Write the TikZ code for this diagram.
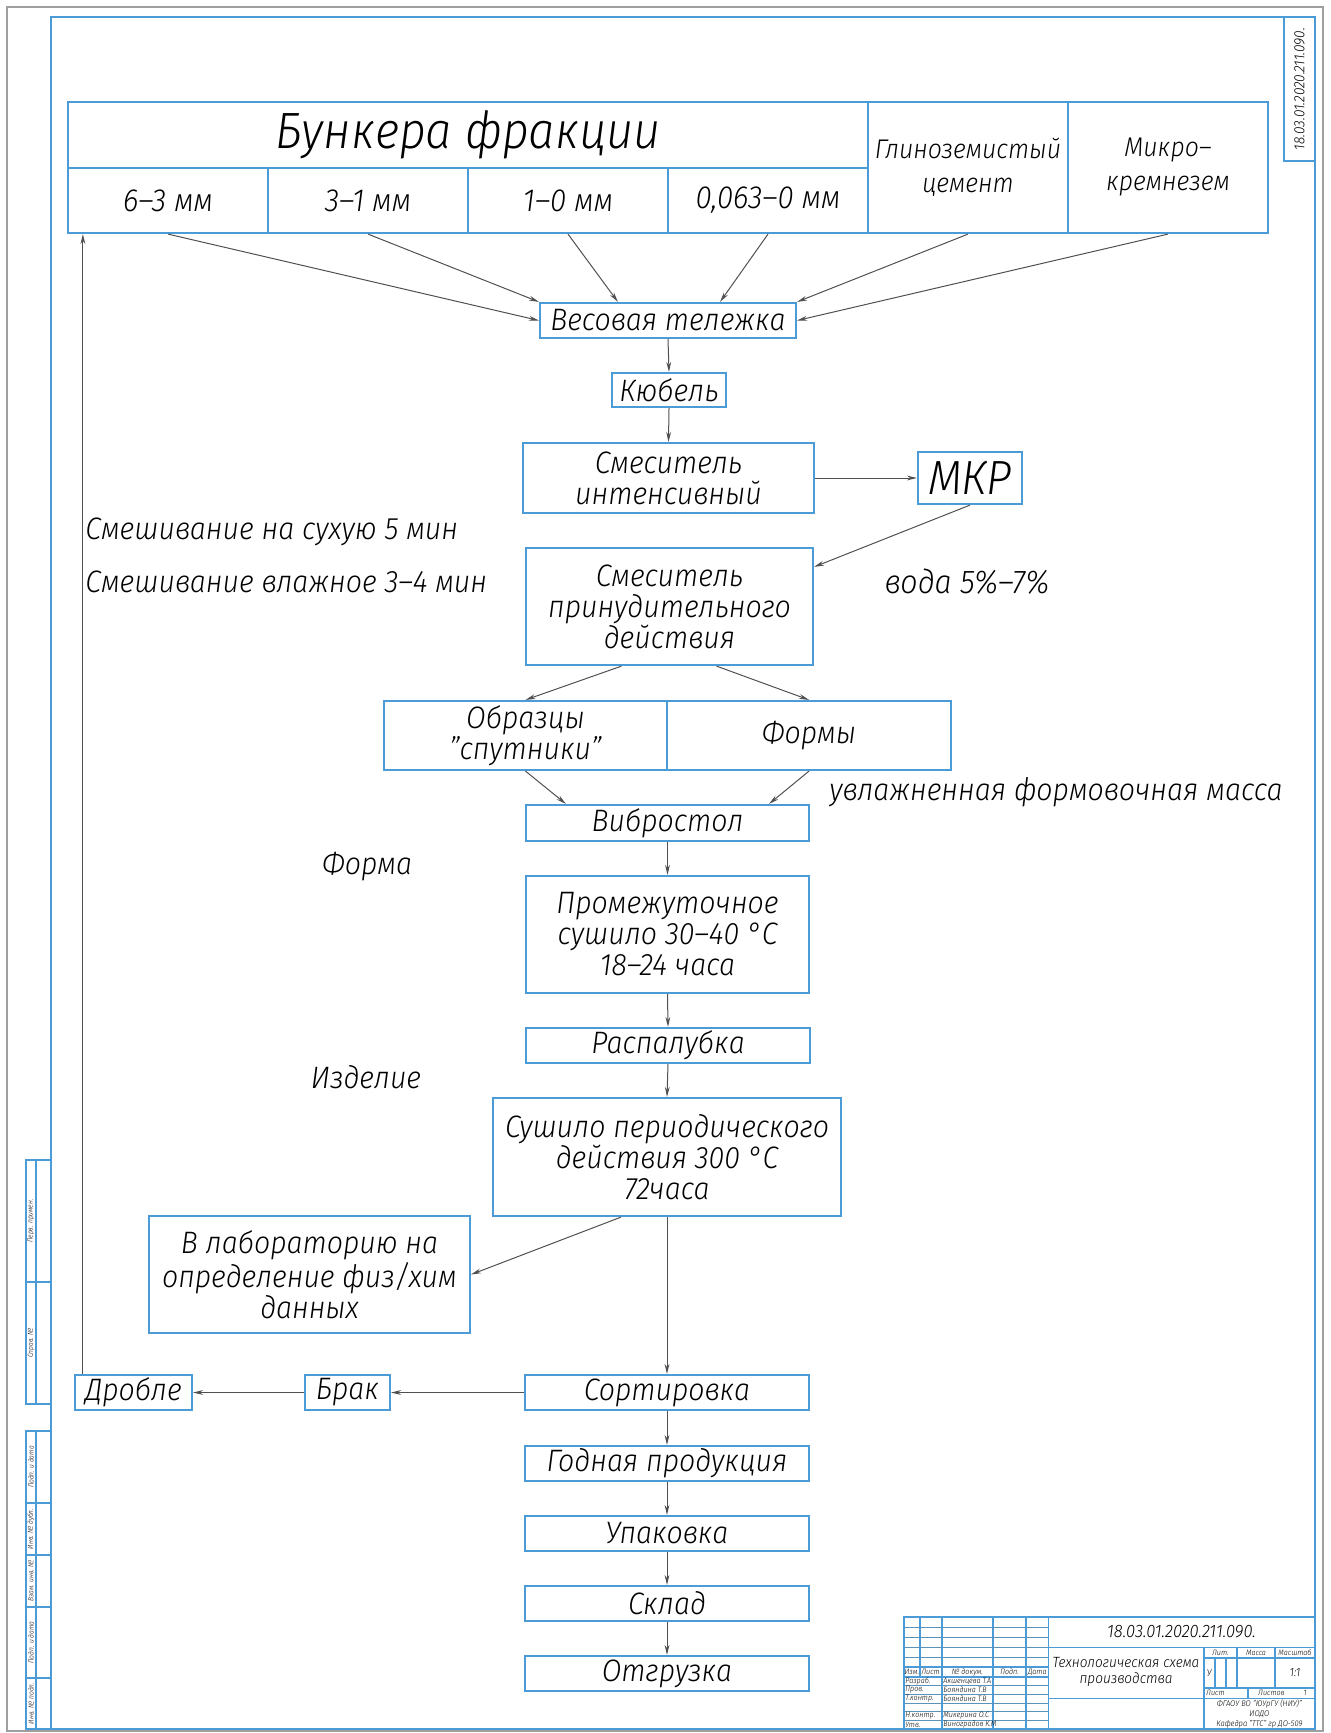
\documentclass[tikz,border=0pt]{standalone}
\usepackage{fontspec}
\IfFontExistsTF{Fira Sans Light Italic}
  {\setmainfont{Fira Sans Light}[FakeStretch=0.92, ItalicFont={Fira Sans Light Italic}]}
  {\setmainfont{Liberation Sans}[FakeStretch=0.86]}
\usetikzlibrary{arrows.meta,calc}
\definecolor{fr}{HTML}{4A9BD6}
\definecolor{ln}{HTML}{505050}
\begin{document}
\begin{tikzpicture}[x=0.5pt,y=-0.5pt,
  box/.style={draw=fr, line width=1.1pt, inner sep=0pt, align=center,
    font=\fontsize{15.5}{15.5}\selectfont\itshape},
  cell/.style={box, font=\fontsize{16}{17}\selectfont\itshape},
  cellb/.style={box, font=\fontsize{13.5}{17}\selectfont\itshape},
  big/.style={box, font=\fontsize{25.5}{27}\selectfont\itshape},
  lbl/.style={inner sep=0pt, align=left, font=\fontsize{15.5}{15.5}\selectfont\itshape},
  con/.style={draw=ln, line width=0.5pt, -{Stealth[length=5pt,width=2.4pt]}},
  tbl/.style={draw=fr, line width=0.9pt},
  thn/.style={draw=fr!70!gray, line width=0.4pt},
  tb/.style={inner sep=0pt, font=\fontsize{3.9}{4.3}\selectfont\itshape},
  strip/.style={inner sep=0pt, rotate=90, font=\fontsize{3.6}{4}\selectfont\itshape}
]
\useasboundingbox (0,0) rectangle (1331,1733);
% outer frames
\draw[draw=gray!75, line width=0.6pt] (7,7) rectangle (1323,1731);
\draw[draw=fr, line width=1.1pt] (51,17) rectangle (1315,1729);
% top-right stamp
\draw[tbl] (1284,17) rectangle (1315,161);
\node[inner sep=0pt, rotate=90, font=\fontsize{7.4}{8}\selectfont\itshape] (stamp) at (1299.5,89) {18.03.01.2020.211.090.};
% left strip
\draw[tbl] (26,1160) rectangle (51,1404);
\draw[tbl] (26,1282) -- (51,1282);
\draw[tbl] (36,1160) -- (36,1404);
\node[strip] (s1) at (31,1221) {Перв. примен.};
\node[strip] (s2) at (31,1343) {Справ. №};
\draw[tbl] (26,1431) rectangle (51,1729);
\draw[tbl] (36,1431) -- (36,1729);
\foreach \yy in {1503,1555,1607,1678} \draw[tbl] (26,\yy) -- (51,\yy);
\node[strip] (s3) at (31,1467) {Подп. и дата};
\node[strip] (s4) at (31,1529) {Инв. № дубл.};
\node[strip] (s5) at (31,1581) {Взам. инв. №};
\node[strip] (s6) at (31,1642.5) {Подп. и дата};
\node[strip] (s7) at (31,1703.5) {Инв. № подл.};

% top table
\node[big, minimum width=400pt, minimum height=33pt] (bunker) at (468,135) {Бункера фракции};
\node[cell, minimum width=100pt, minimum height=32.5pt] (c1) at (168,200.5) {6–3 мм};
\node[cell, minimum width=100pt, minimum height=32.5pt] (c2) at (368,200.5) {3–1 мм};
\node[cell, minimum width=100pt, minimum height=32.5pt] (c3) at (568,200.5) {1–0 мм};
\node[cell, minimum width=100pt, minimum height=32.5pt] (c4) at (768,200.5) {0,063–0 мм};
\node[cellb, minimum width=100pt, minimum height=65.5pt] (c5) at (968,167.5) {Глиноземистый\\цемент};
\node[cellb, minimum width=100pt, minimum height=65.5pt] (c6) at (1168,167.5) {Микро–\\кремнезем};

% flow
\node[box, minimum width=128pt, minimum height=17.5pt] (ves) at (668,320.5) {Весовая тележка};
\node[box, minimum width=57pt, minimum height=17pt] (kub) at (669,390) {Кюбель};
\node[box, minimum width=145.5pt, minimum height=35pt] (smi) at (668.5,478) {Смеситель\\интенсивный};
\node[box, minimum width=52pt, minimum height=26pt, font=\fontsize{24}{25}\selectfont\itshape] (mkr) at (970,478) {МКР};
\node[box, minimum width=143.5pt, minimum height=58.5pt] (smp) at (669.5,606.5) {Смеситель\\принудительного\\действия};
\node[box, minimum width=141.5pt, minimum height=34.5pt] (obr) at (525.5,735.5) {Образцы\\"спутники"};
\node[box, minimum width=142pt, minimum height=34.5pt] (form) at (809,735.5) {Формы};
\node[box, minimum width=141.5pt, minimum height=18pt] (vib) at (667.5,823) {Вибростол};
\node[box, minimum width=141.5pt, minimum height=58.5pt] (prom) at (667.5,934.5) {Промежуточное\\сушило 30–40 °C\\18–24 часа};
\node[box, minimum width=142pt, minimum height=17.5pt] (rasp) at (668,1045.5) {Распалубка};
\node[box, minimum width=174pt, minimum height=59pt] (sush) at (667,1157) {Сушило периодического\\действия 300 °C\\72часа};
\node[box, minimum width=160.5pt, minimum height=58.5pt] (lab) at (309.5,1274.5) {В лабораторию на\\определение физ/хим\\данных};
\node[box, minimum width=142pt, minimum height=17.5pt] (sort) at (667,1392.5) {Сортировка};
\node[box, minimum width=42.5pt, minimum height=17.5pt] (brak) at (347.5,1392.5) {Брак};
\node[box, minimum width=58.5pt, minimum height=17.5pt] (drob) at (133.5,1392.5) {Дробле};
\node[box, minimum width=142pt, minimum height=17.5pt] (god) at (667,1463.5) {Годная продукция};
\node[box, minimum width=142pt, minimum height=17.5pt] (upak) at (667,1533.5) {Упаковка};
\node[box, minimum width=142pt, minimum height=17.5pt] (skl) at (667,1603.5) {Склад};
\node[box, minimum width=142pt, minimum height=17.5pt] (otg) at (667,1673.5) {Отгрузка};

% free labels
\node[lbl, anchor=west] (m1) at (85,532) {Смешивание на сухую 5 мин};
\node[lbl, anchor=west] (m2) at (85,582) {Смешивание влажное 3–4 мин};
\node[lbl, font=\fontsize{16.5}{17}\selectfont\itshape] (voda) at (967,582) {вода 5\%–7\%};
\node[lbl, anchor=west] (uvl) at (829,792) {увлажненная формовочная масса};
\node[lbl] (forma) at (367,867) {Форма};
\node[lbl] (izd) at (366,1077) {Изделие};

% connectors
\draw[con] (c1.south) -- (ves.west);
\draw[con] (c2.south) -- (ves.north west);
\draw[con] (c3.south) -- ($(ves.north west)+(79,0)$);
\draw[con] (c4.south) -- ($(ves.north east)+(-77,0)$);
\draw[con] (c5.south) -- (ves.north east);
\draw[con] (c6.south) -- (ves.east);
\draw[con] (ves.south) -- (kub.north);
\draw[con] (kub.south) -- (smi.north);
\draw[con] (smi.east) -- (mkr.west);
\draw[con] (mkr.south) -- ($(smp.north east)+(0,20)$);
\draw[con] ($(smp.south)+(-48,0)$) -- (obr.north);
\draw[con] ($(smp.south)+(47,0)$) -- (form.north);
\draw[con] (obr.south) -- ($(vib.north west)+(41,0)$);
\draw[con] (form.south) -- ($(vib.north east)+(-41,0)$);
\draw[con] (vib.south) -- (prom.north);
\draw[con] (prom.south) -- (rasp.north);
\draw[con] (rasp.south) -- (sush.north);
\draw[con] ($(sush.south)+(-46,0)$) -- (lab.east);
\draw[con] (sush.south) -- (sort.north);
\draw[con] (sort.west) -- (brak.east);
\draw[con] (brak.west) -- (drob.east);
\draw[con] ($(drob.north west)+(9,0)$) -- ($(c1.south west)+(16,0)$);
\draw[con] (sort.south) -- (god.north);
\draw[con] (god.south) -- (upak.north);
\draw[con] (upak.south) -- (skl.north);
\draw[con] (skl.south) -- (otg.north);

% title block
\draw[tbl] (904,1617) rectangle (1315,1729);
\foreach \xx in {941.8,992.9,1026.2,1048.4} \draw[tbl] (\xx,1617) -- (\xx,1729);
\draw[tbl] (919.6,1617) -- (919.6,1677);
\foreach \yy in {1627,1637,1647,1657} \draw[thn] (904,\yy) -- (1048.4,\yy);
\draw[tbl] (904,1667) -- (1048.4,1667);
\draw[tbl] (904,1677) -- (1048.4,1677);
\foreach \yy in {1685.7,1694.3,1703,1711.7,1720.3} \draw[thn] (904,\yy) -- (1048.4,\yy);
\draw[tbl] (1048.4,1647.5) -- (1315,1647.5);
\draw[tbl] (1048.4,1698.4) -- (1315,1698.4);
\draw[tbl] (1203.8,1647.5) -- (1203.8,1729);
\draw[tbl] (1203.8,1657.7) -- (1315,1657.7);
\draw[tbl] (1203.8,1688.2) -- (1315,1688.2);
\draw[tbl] (1237.1,1647.5) -- (1237.1,1688.2);
\draw[tbl] (1274.9,1647.5) -- (1274.9,1688.2);
\draw[tbl] (1214.9,1657.7) -- (1214.9,1688.2);
\draw[tbl] (1226,1657.7) -- (1226,1688.2);
\draw[tbl] (1248.2,1688.2) -- (1248.2,1698.4);

\node[tb] (h1) at (911.8,1672) {Изм.};
\node[tb] (h2) at (930.7,1672) {Лист};
\node[tb] (h3) at (967.3,1672) {№ докум.};
\node[tb] (h4) at (1009.5,1672) {Подп.};
\node[tb] (h5) at (1037.3,1672) {Дата};
\node[tb, anchor=west] (r1) at (905,1681.3) {Разраб.};
\node[tb, anchor=west] (r2) at (905,1690) {Пров.};
\node[tb, anchor=west] (r3) at (905,1698.6) {Т.контр.};
\node[tb, anchor=west] (r5) at (905,1716) {Н.контр.};
\node[tb, anchor=west] (r6) at (905,1724.6) {Утв.};
\node[tb, anchor=west] (n1) at (943,1681.3) {Акшенцева Т.А};
\node[tb, anchor=west] (n2) at (943,1690) {Бояндина Т.В};
\node[tb, anchor=west] (n3) at (943,1698.6) {Бояндина Т.В};
\node[tb, anchor=west] (n5) at (943,1716) {Микерина О.С};
\node[tb, anchor=west] (n6) at (943,1724.6) {Виноградов К.М};
\node[inner sep=0pt, font=\fontsize{9}{9}\selectfont\itshape] (des) at (1181.5,1632) {18.03.01.2020.211.090.};
\node[inner sep=0pt, align=center, font=\fontsize{7.4}{8.4}\selectfont\itshape] (ttl) at (1126,1672) {Технологическая схема\\производства};
\node[tb] (lit) at (1220.4,1652.6) {Лит.};
\node[tb] (mas) at (1256,1652.6) {Масса};
\node[tb] (msh) at (1295,1652.6) {Масштаб};
\node[tb, font=\fontsize{5}{6}\selectfont\itshape] (lit1) at (1209.3,1673) {У};
\node[inner sep=0pt, font=\fontsize{6}{7}\selectfont\itshape] (scl) at (1295,1673) {1:1};
\node[tb, anchor=west] (ls) at (1206,1693.3) {Лист};
\node[tb, anchor=west] (lss) at (1258,1693.3) {Листов};
\node[tb] (lsn) at (1305,1693.3) {1};
\node[tb, align=center, font=\fontsize{4.1}{4.9}\selectfont\itshape] (org) at (1259.4,1713.7) {ФГАОУ ВО "ЮУрГУ (НИУ)"\\ИОДО\\Кафедра "ТТС" гр ДО-509};
\end{tikzpicture}
\end{document}
